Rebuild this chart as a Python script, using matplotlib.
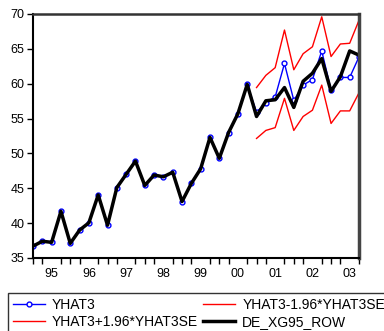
import matplotlib.pyplot as plt
import numpy as np
import matplotlib as mpl

mpl.rcParams['font.family'] = ['Liberation Sans', 'DejaVu Sans']

# quarterly, 1995Q1 .. 2003Q4
year_labels = ['95', '96', '97', '98', '99', '00', '01', '02', '03']

# DE_XG95_ROW (actual)
actual = [36.7, 37.4, 37.25, 41.7, 37.1, 39.0, 40.05, 44.05,
          39.7, 45.1, 47.0, 48.9, 45.4, 46.9, 46.65, 47.3,
          43.1, 45.7, 47.8, 52.3, 49.3, 53.0, 55.7, 59.9,
          55.3, 57.55, 57.7, 59.45, 56.6, 60.35, 61.5, 63.6,
          58.9, 61.0, 64.7, 64.1]

# YHAT3: equals actual up to 2000Q4, forecast afterwards
yhat3_fc = [55.9, 57.3, 58.1, 62.9, 57.6, 59.8, 60.6, 64.7,
            59.1, 60.9, 60.9, 63.85]
upper_fc = [59.45, 61.2, 62.3, 67.7, 62.0, 64.3, 65.3, 69.6,
            63.9, 65.7, 65.8, 69.1]
lower_fc = [52.15, 53.3, 53.7, 57.9, 53.3, 55.3, 56.2, 59.8,
            54.3, 56.1, 56.1, 58.7]

n = len(actual)
nfc = len(yhat3_fc)
t = np.arange(n)
t_fc = t[n - nfc:]
yhat3 = actual[:n - nfc] + yhat3_fc

fig = plt.figure(figsize=(3.84, 3.31), dpi=100)
ax = fig.add_axes([33/384, 1 - 258/331, 326/384, 244/331])

l1, = ax.plot(t, yhat3, color='blue', lw=1.0, marker='o', ms=3.5,
              mfc='white', mec='blue', mew=1.0, label='YHAT3')
l2, = ax.plot(t_fc, upper_fc, color='red', lw=1.0, label='YHAT3+1.96*YHAT3SE')
l3, = ax.plot(t_fc, lower_fc, color='red', lw=1.0, label='YHAT3-1.96*YHAT3SE')
l4, = ax.plot(t, actual, color='black', lw=2.5, label='DE_XG95_ROW')

ax.set_xlim(0, n - 1)
ax.set_ylim(35, 70)
ax.set_yticks(np.arange(35, 71, 5))

# quarter tick marks, year labels centred in each year
ax.set_xticks(t, minor=True)
ax.set_xticks(np.arange(2, n, 4))
ax.set_xticklabels(year_labels)
ax.tick_params(axis='x', which='major', length=0, pad=7, labelsize=9)
ax.tick_params(axis='x', which='minor', length=4, width=1, direction='out')
ax.tick_params(axis='y', length=4, width=1, direction='out', pad=2, labelsize=9)

for s in ['left', 'bottom']:
    ax.spines[s].set_linewidth(1.5)
    ax.spines[s].set_color('black')
ax.spines['top'].set_linewidth(1.8)
ax.spines['top'].set_color('#333333')
ax.spines['right'].set_linewidth(2.5)
ax.spines['right'].set_color('#444444')

leg = fig.legend(handles=[l1, l2, l3, l4], ncol=2, loc='upper left',
                 bbox_to_anchor=(8/384, 1 - 293/331), borderaxespad=0,
                 fontsize=10, frameon=True, fancybox=False,
                 handlelength=2.3, handletextpad=0.5, columnspacing=0.4,
                 labelspacing=0.25, borderpad=0.35)
leg.get_frame().set_edgecolor('black')
leg.get_frame().set_linewidth(1.0)

plt.savefig('out.png', dpi=100)
